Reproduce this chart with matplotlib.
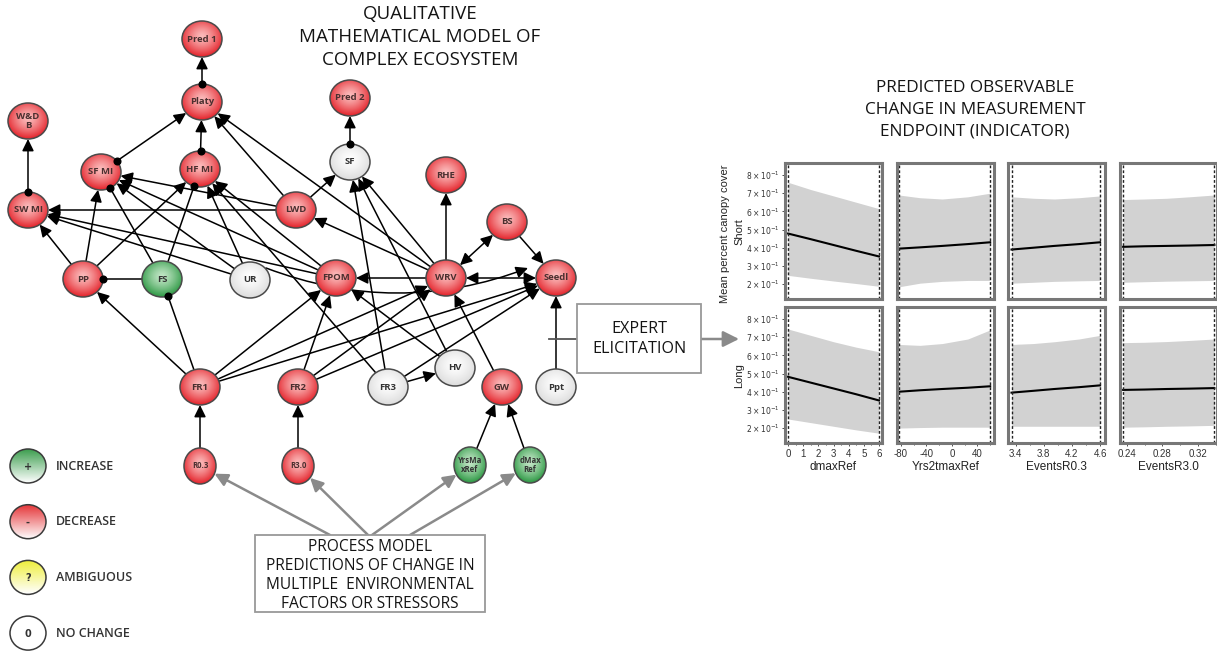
import numpy as np
import matplotlib
matplotlib.use("Agg")
import matplotlib.pyplot as plt
from matplotlib.patches import Ellipse, Rectangle, FancyArrowPatch
from matplotlib.colors import to_rgb
from matplotlib.ticker import MultipleLocator

W, H = 1217, 652

# ---- network nodes: name -> (x, y, status) in pixel space
nodes = {
    "Pred 1": (202, 39, "-"), "Platy": (202, 102, "-"), "Pred 2": (350, 98, "-"),
    "W&D\nB": (28, 121, "-"), "SF MI": (101, 172, "-"), "HF MI": (200, 169, "-"),
    "SF": (350, 162, "0"), "RHE": (446, 175, "-"), "SW MI": (28, 210, "-"),
    "LWD": (296, 210, "-"), "BS": (507, 222, "-"), "PP": (83, 279, "-"),
    "FS": (162, 279, "+"), "UR": (250, 280, "0"), "FPOM": (336, 278, "-"),
    "WRV": (446, 278, "-"), "Seedl": (556, 278, "-"), "FR1": (200, 387, "-"),
    "FR2": (298, 387, "-"), "FR3": (388, 387, "0"), "HV": (455, 368, "0"),
    "GW": (502, 387, "-"), "Ppt": (556, 387, "0"), "R0.3": (200, 466, "-"),
    "R3.0": (298, 466, "-"), "YrsMa\nxRef": (470, 465, "+"), "dMax\nRef": (530, 465, "+"),
}
small_nodes = ["R0.3", "R3.0", "YrsMa\nxRef", "dMax\nRef"]

# links: (from, to, kind) ; kind: '->' arrow, '-o' dot, '<->' both arrows, 'o->' arrow + dot at source
links = [
    ("Platy", "Pred 1", "o->"), ("SF", "Pred 2", "o->"), ("SW MI", "W&D\nB", "o->"),
    ("SF MI", "Platy", "o->"), ("HF MI", "Platy", "o->"),
    ("LWD", "Platy", "->"), ("WRV", "Platy", "->"), ("LWD", "SF", "->"),
    ("LWD", "SW MI", "->"), ("LWD", "SF MI", "->"), ("WRV", "RHE", "->"),
    ("WRV", "BS", "<->"), ("BS", "Seedl", "->"), ("WRV", "LWD", "->"),
    ("WRV", "FPOM", "->"), ("WRV", "Seedl", "<->"), ("WRV", "SF", "->"),
    ("FR3", "SF", "->"), ("HV", "SF", "->"),
    ("PP", "SW MI", "->"), ("PP", "SF MI", "->"), ("PP", "HF MI", "->"),
    ("FS", "PP", "-o"), ("FS", "SF MI", "-o"), ("FS", "HF MI", "-o"),
    ("UR", "SW MI", "->"), ("UR", "SF MI", "->"), ("UR", "HF MI", "->"),
    ("FPOM", "SW MI", "->"), ("FPOM", "SF MI", "->"), ("FPOM", "HF MI", "->"),
    ("FR3", "HF MI", "->"),
    ("FR1", "PP", "->"), ("FR1", "FS", "-o"), ("FR1", "FPOM", "->"),
    ("FR1", "WRV", "->"), ("FR1", "Seedl", "->"),
    ("FR2", "FPOM", "->"), ("FR2", "WRV", "->"), ("FR2", "Seedl", "->"),
    ("FR3", "Seedl", "->"), ("FR3", "HV", "->"), ("HV", "FPOM", "->"),
    ("GW", "WRV", "->"), ("Ppt", "Seedl", "->"),
    ("R0.3", "FR1", "->"), ("R3.0", "FR2", "->"),
    ("YrsMa\nxRef", "GW", "->"), ("dMax\nRef", "GW", "->"),
]

legend_items = [("+", "INCREASE"), ("-", "DECREASE"), ("?", "AMBIGUOUS"), ("0", "NO CHANGE")]

# ---- response panels
x_names = ["dmaxRef", "Yrs2tmaxRef", "EventsR0.3", "EventsR3.0"]
rows = ["Short", "Long"]
dmax_x = [0, 1.5, 3, 4.5, 6]
yrs_x = [-83, -50, -15, 25, 60]
ev03_x = [3.34, 3.65, 3.95, 4.3, 4.6]
ev30_x = [0.236, 0.26, 0.285, 0.31, 0.338]

short_mid = [[0.478, 0.447, 0.415, 0.383, 0.352], [0.395, 0.402, 0.41, 0.42, 0.43],
             [0.39, 0.40, 0.41, 0.42, 0.43], [0.405, 0.408, 0.41, 0.412, 0.415]]
short_hi = [[0.76, 0.72, 0.685, 0.65, 0.615], [0.69, 0.675, 0.668, 0.68, 0.70],
            [0.68, 0.672, 0.668, 0.675, 0.685], [0.665, 0.668, 0.672, 0.68, 0.69]]
short_lo = [[0.248, 0.232, 0.217, 0.203, 0.188], [0.185, 0.205, 0.215, 0.22, 0.22],
            [0.205, 0.21, 0.215, 0.218, 0.22], [0.21, 0.213, 0.216, 0.218, 0.22]]
long_mid = [[0.482, 0.45, 0.418, 0.386, 0.352], [0.40, 0.408, 0.415, 0.422, 0.43],
            [0.395, 0.405, 0.415, 0.425, 0.435], [0.41, 0.412, 0.415, 0.417, 0.42]]
long_hi = [[0.745, 0.71, 0.675, 0.645, 0.62], [0.66, 0.655, 0.665, 0.69, 0.74],
           [0.66, 0.665, 0.675, 0.69, 0.71], [0.67, 0.672, 0.676, 0.682, 0.69]]
long_lo = [[0.25, 0.23, 0.21, 0.19, 0.172], [0.20, 0.203, 0.205, 0.205, 0.205],
           [0.21, 0.21, 0.21, 0.21, 0.21], [0.205, 0.207, 0.21, 0.212, 0.215]]

xs_all = [dmax_x, yrs_x, ev03_x, ev30_x]
xlims = [(-0.2, 6.2), (-86, 66), (3.29, 4.67), (0.2325, 0.341)]
xticks = [[0, 1, 2, 3, 4, 5, 6], [-80, -40, 0, 40], [3.4, 3.8, 4.2, 4.6], [0.24, 0.28, 0.32]]
xminor = [0.5, 20, 0.2, 0.02]
xticklabels = [["0", "1", "2", "3", "4", "5", "6"], ["-80", "-40", "0", "40"],
               ["3.4", "3.8", "4.2", "4.6"], ["0.24", "0.28", "0.32"]]
y_ticks = [0.2, 0.3, 0.4, 0.5, 0.6, 0.7, 0.8]

fig = plt.figure(figsize=(W / 100, H / 100), dpi=100)
ax = fig.add_axes([0, 0, 1, 1])
ax.set_xlim(0, W)
ax.set_ylim(H, 0)
ax.axis("off")

TITLE_FONT = "Open Sans"
TXT = "#141414"
HEAD = ",head_length=0.65,head_width=0.32"

palette = {
    "-": ("#fbbcbc", "#e4222a"),
    "+": ("#c2e6c6", "#2c9843"),
    "0": ("#ffffff", "#dcdcdc"),
}


def radii(name):
    if name in small_nodes:
        return 16, 18
    return 20, 18


def gradient_node(x, y, a, b, inner, outer, ec="#4a4a4a", lw=1.1):
    n = 64
    gx, gy = np.meshgrid(np.linspace(-1, 1, n), np.linspace(-1, 1, n))
    r = np.sqrt(gx ** 2 + (gy + 0.15) ** 2) / 1.15
    r = np.clip(r, 0, 1) ** 1.3
    c1, c2 = np.array(to_rgb(inner)), np.array(to_rgb(outer))
    img = c1 * (1 - r[..., None]) + c2 * r[..., None]
    e = Ellipse((x, y), 2 * a, 2 * b, facecolor="none", edgecolor=ec, lw=lw, zorder=4)
    ax.add_patch(e)
    im = ax.imshow(img, extent=(x - a, x + a, y + b, y - b), origin="upper",
                   aspect="auto", zorder=3, interpolation="bilinear")
    im.set_clip_path(e)


def vertical_node(x, y, a, b, top, ec="#4a4a4a"):
    n = 64
    t = np.linspace(0, 1, n)[:, None, None] * np.ones((1, n, 1))
    c1, c2 = np.array(to_rgb(top)), np.array(to_rgb("#ffffff"))
    img = c1 * (1 - t) + c2 * t
    e = Ellipse((x, y), 2 * a, 2 * b, facecolor="none", edgecolor=ec, lw=1.1, zorder=4)
    ax.add_patch(e)
    im = ax.imshow(img, extent=(x - a, x + a, y + b, y - b), origin="upper",
                   aspect="auto", zorder=3, interpolation="bilinear")
    im.set_clip_path(e)


def edge_point(name, toward):
    x, y, _ = nodes[name]
    a, b = radii(name)
    dx, dy = toward[0] - x, toward[1] - y
    d = np.hypot(dx, dy)
    dx, dy = dx / d, dy / d
    t = 1 / np.sqrt((dx / a) ** 2 + (dy / b) ** 2)
    return x + t * dx, y + t * dy


def draw_link(src, dst, kind):
    sx, sy, _ = nodes[src]
    tx, ty, _ = nodes[dst]
    p0 = edge_point(src, (tx, ty))
    p1 = edge_point(dst, (sx, sy))
    style = {"->": "-|>" + HEAD, "-o": "-", "<->": "<|-|>" + HEAD, "o->": "-|>" + HEAD}[kind]
    arr = FancyArrowPatch(p0, p1, arrowstyle=style, mutation_scale=11, lw=1.1,
                          color="black", shrinkA=0, shrinkB=0, zorder=2)
    ax.add_patch(arr)
    if kind == "-o":
        ax.plot(*p1, "o", color="black", ms=4.8, zorder=5)
    if kind == "o->":
        ax.plot(*p0, "o", color="black", ms=4.8, zorder=5)


for s, d, k in links:
    draw_link(s, d, k)

# curved link UR -> Seedl
ax.add_patch(FancyArrowPatch((266, 268), (528, 268), arrowstyle="-|>" + HEAD,
                             connectionstyle="arc3,rad=0.19", mutation_scale=11,
                             lw=1.1, color="black", shrinkA=0, shrinkB=0, zorder=2))

for name, (x, y, st) in nodes.items():
    a, b = radii(name)
    inner, outer = palette[st]
    gradient_node(x, y, a, b, inner, outer)
    fs = 5.6 if name in small_nodes else 6.8
    ax.text(x, y, name, ha="center", va="center", fontsize=fs, fontweight="bold",
            color="#4a2f2f" if st == "-" else "#333333", family="Open Sans",
            linespacing=1.0, zorder=6)

# legend
leg_colors = {"+": "#3d9e4f", "-": "#e5383b", "?": "#eeee3a", "0": "#ffffff"}
for i, (sym, lab) in enumerate(legend_items):
    y = 466 + i * 55.7
    vertical_node(28, y, 18, 17, leg_colors[sym], ec="#3a3a3a")
    ax.text(28, y + 1, sym, ha="center", va="center", fontsize=7, fontweight="bold",
            color="#333333", zorder=6)
    ax.text(56, y, lab, ha="left", va="center", fontsize=9, color="#333333",
            family=TITLE_FONT, fontweight="semibold")

# titles
for i, line in enumerate(["QUALITATIVE", "MATHEMATICAL MODEL OF", "COMPLEX ECOSYSTEM"]):
    ax.text(420, 14 + i * 23, line, ha="center", va="center", fontsize=13.5,
            color=TXT, family=TITLE_FONT)
for i, line in enumerate(["PREDICTED OBSERVABLE", "CHANGE IN MEASUREMENT", "ENDPOINT (INDICATOR)"]):
    ax.text(975, 88 + i * 21.5, line, ha="center", va="center", fontsize=12.4,
            color=TXT, family=TITLE_FONT)

# process-model box and its grey arrows
ax.add_patch(Rectangle((255, 535), 230, 77, facecolor="white", edgecolor="#999999",
                       lw=1.3, zorder=3))
for i, line in enumerate(["PROCESS MODEL", "PREDICTIONS OF CHANGE IN",
                          "MULTIPLE  ENVIRONMENTAL", "FACTORS OR STRESSORS"]):
    ax.text(370, 547 + i * 19, line, ha="center", va="center", fontsize=11.2,
            color=TXT, family=TITLE_FONT, zorder=4)
grey_arrows = [((330, 535), "R0.3"), ((368, 535), "R3.0"),
               ((372, 535), "YrsMa\nxRef"), ((410, 535), "dMax\nRef")]
for start, name in grey_arrows:
    end = edge_point(name, start)
    ax.add_patch(FancyArrowPatch(start, end,
                                 arrowstyle="-|>,head_length=0.7,head_width=0.35",
                                 mutation_scale=11, lw=1.8, color="#8a8a8a",
                                 shrinkA=0, shrinkB=0, zorder=2))

# expert elicitation box
ax.plot([549, 577], [339, 339], color="#555555", lw=1.3, zorder=2)
ax.add_patch(Rectangle((577, 304), 124, 69, facecolor="white", edgecolor="#999999",
                       lw=1.3, zorder=3))
ax.text(639, 329, "EXPERT", ha="center", va="center", fontsize=11.6,
        color=TXT, family=TITLE_FONT, zorder=4)
ax.text(639, 349, "ELICITATION", ha="center", va="center", fontsize=11.6,
        color=TXT, family=TITLE_FONT, zorder=4)
ax.add_patch(FancyArrowPatch((701, 339), (739, 339),
                             arrowstyle="-|>,head_length=0.8,head_width=0.4",
                             mutation_scale=12, lw=1.8, color="#8a8a8a",
                             shrinkA=0, shrinkB=0, zorder=2))

# ---- partial-response panels
col_left = [785, 897, 1008, 1120]
pw = 97
row_top = [163, 307]
ph = 136
ylim = (0.118, 0.866)
R_FONT = "Liberation Sans"

for r, rname in enumerate(rows):
    mids = short_mid if r == 0 else long_mid
    his = short_hi if r == 0 else long_hi
    los = short_lo if r == 0 else long_lo
    for c in range(4):
        pa = fig.add_axes([col_left[c] / W, 1 - (row_top[r] + ph) / H, pw / W, ph / H])
        xs = xs_all[c]
        pa.fill_between(xs, los[c], his[c], color="#d2d2d2", lw=0)
        pa.plot(xs, mids[c], color="black", lw=1.5)
        for xv in (xs[0], xs[-1]):
            pa.axvline(xv, color="#222222", lw=1.0, ls=(0, (2, 1.5)))
        pa.set_xlim(*xlims[c])
        pa.set_ylim(*ylim)
        for sp in pa.spines.values():
            sp.set_color("#777777")
            sp.set_linewidth(2.2)
        pa.add_patch(Rectangle((0.012, 0.008), 0.976, 0.984, transform=pa.transAxes,
                               fill=False, edgecolor="#555555", lw=0.6))
        pa.tick_params(direction="out", length=2.5, width=0.6, colors="#333333",
                       labelsize=6.5, pad=1.5)
        pa.tick_params(which="minor", direction="out", length=1.5, width=0.5)
        if c == 0:
            pa.set_yticks(y_ticks)
            pa.set_yticklabels([r"$%d\times10^{-1}$" % round(v * 10) for v in y_ticks],
                               fontsize=5.5)
        else:
            pa.set_yticks([])
        if r == 1:
            pa.set_xticks(xticks[c])
            pa.set_xticklabels(xticklabels[c], fontsize=7, family=R_FONT)
            pa.xaxis.set_minor_locator(MultipleLocator(xminor[c]))
            pa.set_xlabel(x_names[c], fontsize=8.5, family=R_FONT, labelpad=2,
                          color="#222222")
        else:
            pa.set_xticks([])

# y-axis annotations of the panel block
fig.text(725 / W, 1 - 234 / H, "Mean percent canopy cover", rotation=90, ha="center",
         va="center", fontsize=8, family=R_FONT, color="#222222")
fig.text(739 / W, 1 - 232 / H, "Short", rotation=90, ha="center", va="center",
         fontsize=8, family=R_FONT, color="#222222")
fig.text(739 / W, 1 - 376 / H, "Long", rotation=90, ha="center", va="center",
         fontsize=8, family=R_FONT, color="#222222")

fig.savefig("out.png", dpi=100)
